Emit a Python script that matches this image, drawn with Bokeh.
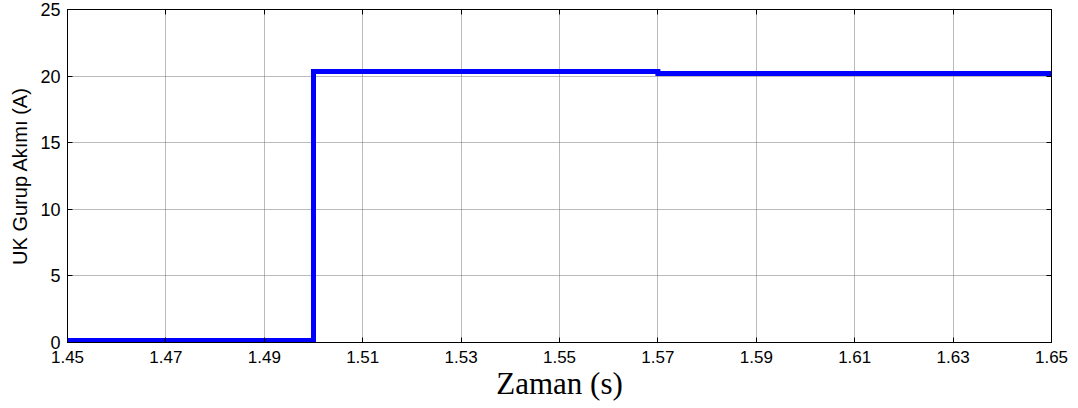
from bokeh.plotting import figure
from bokeh.models import LinearAxis, Range1d, FixedTicker
from bokeh.embed import file_html
from bokeh.resources import INLINE

# data (step signal)
time_s = [1.45, 1.50, 1.50, 1.57, 1.57, 1.65]
current_a = [0.15, 0.15, 20.35, 20.35, 20.2, 20.2]

x_ticks = [1.45, 1.47, 1.49, 1.51, 1.53, 1.55, 1.57, 1.59, 1.61, 1.63, 1.65]
y_ticks = [0, 5, 10, 15, 20, 25]
x_label = "Zaman (s)"
y_label = "UK Gurup Akımı (A)"

p = figure(frame_width=984, frame_height=333, output_backend="svg",
           toolbar_location=None, x_range=Range1d(1.45, 1.65), y_range=Range1d(0, 25),
           min_border_left=67, min_border_right=20, min_border_top=9, min_border_bottom=10)
p.background_fill_color = "white"
p.border_fill_color = "white"
p.outline_line_color = "black"
p.outline_line_width = 1

def style(ax, size="17px"):
    ax.axis_line_color = "black"
    ax.major_tick_in = 5
    ax.major_tick_out = 0
    ax.minor_tick_line_color = None
    ax.major_tick_line_color = "black"
    ax.major_label_text_font = "Liberation Sans"
    ax.major_label_text_color = "black"
    ax.major_label_text_font_size = size
    ax.major_label_standoff = 4

xa = p.xaxis[0]
xa.ticker = FixedTicker(ticks=x_ticks)
style(xa, "17px")
xa.major_label_standoff = 8
xa.axis_label = x_label
xa.axis_label_text_font = "Liberation Serif"
xa.axis_label_text_font_size = "31px"
xa.axis_label_text_font_style = "normal"
xa.axis_label_text_color = "black"
xa.axis_label_standoff = 0

ya = p.yaxis[0]
ya.ticker = FixedTicker(ticks=y_ticks)
style(ya, "18px")
ya.major_label_standoff = 7
ya.axis_label = y_label
ya.axis_label_text_font = "Liberation Sans"
ya.axis_label_text_font_size = "20px"
ya.axis_label_text_font_style = "normal"
ya.axis_label_text_color = "black"
ya.axis_label_standoff = 6

top = LinearAxis(ticker=FixedTicker(ticks=x_ticks))
style(top, "1px")
top.major_label_text_color = None
top.major_label_standoff = 0
p.add_layout(top, "above")
right = LinearAxis(ticker=FixedTicker(ticks=y_ticks))
style(right, "1px")
right.major_label_text_color = None
right.major_label_standoff = 0
p.add_layout(right, "right")

for g in (p.xgrid[0], p.ygrid[0]):
    g.grid_line_color = "#777777"
    g.grid_line_dash = "1 1"
    g.grid_line_width = 1
p.xgrid[0].ticker = FixedTicker(ticks=x_ticks)
p.ygrid[0].ticker = FixedTicker(ticks=y_ticks)

p.line(time_s, current_a, line_color="#0000FF", line_width=5, line_join="miter")

open("out.html", "w").write(file_html(p, INLINE))
